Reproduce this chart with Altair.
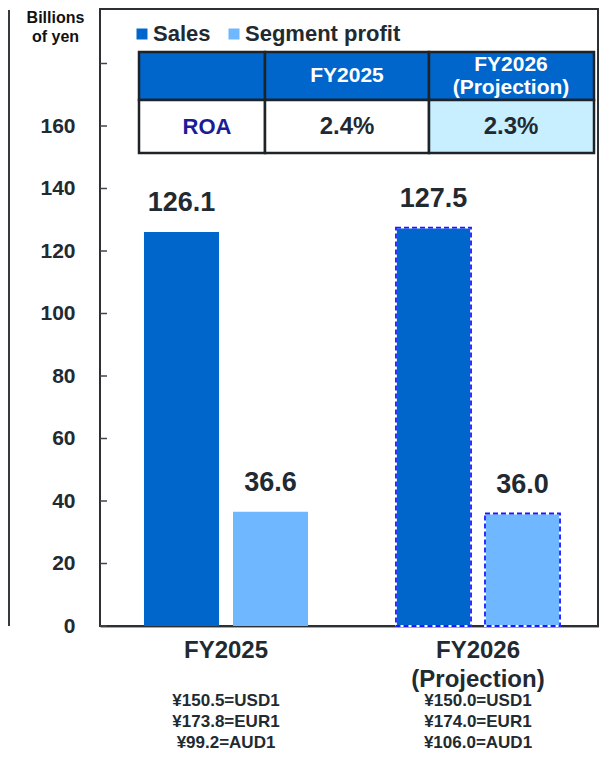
import altair as alt
import pandas as pd

# ---------------- data ----------------
years = ["FY2025", "FY2026 (Projection)"]
series = ["Sales", "Segment profit"]
sales = [126.1, 127.5]
segment_profit = [36.6, 36.0]
projected = [False, True]
fx_rates = [
    "¥150.5=USD1\n¥173.8=EUR1\n¥99.2=AUD1",
    "¥150.0=USD1\n¥174.0=EUR1\n¥106.0=AUD1",
]
y_tick_values = [0, 20, 40, 60, 80, 100, 120, 140, 160, 180]
y_label_values = [0, 20, 40, 60, 80, 100, 120, 140, 160]
table_header = ["", "FY2025", "FY2026\n(Projection)"]
table_row_label = "ROA"
roa_values = ["2.4%", "2.3%"]

# ---------------- style / layout ----------------
FONT = "Liberation Sans"
DARK = "#222a31"
SALES_C = "#0066cc"
PROFIT_C = "#6fb7ff"
HEAD_C = "#0066cc"
PROJ_CELL_C = "#c8efff"
ROA_C = "#1c1c98"
W, H = 498, 618
YMAX = H / 3.125

rows = []
for i, y in enumerate(years):
    rows.append({"year": y, "series": series[0], "value": sales[i], "proj": projected[i]})
    rows.append({"year": y, "series": series[1], "value": segment_profit[i], "proj": projected[i]})
bars_df = pd.DataFrame(rows)

x_enc = alt.X("year:N", scale=alt.Scale(domain=years, paddingInner=0, paddingOuter=0, range=[0, 504]),
              sort=years,
              axis=alt.Axis(title=None, labelExpr="split(datum.label, ' ')", labelFont=FONT,
                            labelFontSize=24, labelFontWeight="bold", labelColor=DARK,
                            labelLineHeight=29, labelPadding=12, labelBaseline="top",
                            ticks=False, domainColor="#8a8a8a", domainWidth=2.5,
                            labelAngle=0))
xo_enc = alt.XOffset("series:N", scale=alt.Scale(domain=series, paddingInner=0.157, paddingOuter=0.494))
y_scale = alt.Scale(domain=[0, YMAX], nice=False, zero=True)

frame = alt.Chart(pd.DataFrame({"a": [0]})).mark_rect(
    fillOpacity=0, stroke="#2b3035", strokeWidth=2
).encode(x=alt.value(0), x2=alt.value(W), y=alt.value(1), y2=alt.value(H))

bars = alt.Chart(bars_df).mark_bar().encode(
    x=x_enc,
    xOffset=xo_enc,
    y=alt.Y("value:Q", scale=y_scale,
            axis=alt.Axis(values=y_label_values, title=["Billions", "of yen"], titleAngle=0,
                          titleAlign="center", titleX=-45, titleY=14, titleBaseline="alphabetic",
                          titleFont=FONT, titleFontSize=16, titleFontWeight="bold",
                          titleColor="#111111", titleLineHeight=19,
                          labelFont=FONT, labelFontSize=21, labelFontWeight="bold",
                          labelColor=DARK, labelPadding=25, ticks=False, tickSize=0,
                          domain=False, grid=False)),
    color=alt.Color("series:N", scale=alt.Scale(domain=series, range=[SALES_C, PROFIT_C]),
                    legend=alt.Legend(title=None, orient="none", legendX=31, legendY=15,
                                      direction="horizontal", symbolType="square",
                                      symbolSize=121, symbolStrokeWidth=0,
                                      labelFont=FONT, labelFontSize=22, labelFontWeight="bold",
                                      labelColor=DARK, labelOffset=0, columnPadding=12,
                                      padding=0)),
)

outline_white = alt.Chart(bars_df).transform_filter("datum.proj").mark_bar(
    fillOpacity=0, stroke="#ffffff", strokeWidth=1.8
).encode(x=alt.X("year:N", sort=years), xOffset="series:N", y="value:Q")

outlines = alt.Chart(bars_df).transform_filter("datum.proj").mark_bar(
    fillOpacity=0, stroke="#1a1aff", strokeWidth=1.8, strokeDash=[5, 3]
).encode(x=alt.X("year:N", sort=years), xOffset="series:N", y="value:Q")

labels = alt.Chart(bars_df).mark_text(
    font=FONT, fontSize=27, fontWeight="bold", color=DARK, baseline="alphabetic", dy=-21
).encode(x=alt.X("year:N", sort=years), xOffset="series:N", y="value:Q",
         text=alt.Text("value:Q", format=".1f"))

ticks = alt.Chart(pd.DataFrame({"t": y_tick_values})).mark_rule(
    color="#444444", strokeWidth=1.5
).encode(y="t:Q", x=alt.value(0), x2=alt.value(7))

fx = alt.Chart(pd.DataFrame({"year": years, "fx": fx_rates})).mark_text(
    font=FONT, fontSize=17, fontWeight="bold", color=DARK, baseline="alphabetic",
    lineBreak="\n", lineHeight=21
).encode(x=alt.X("year:N", sort=years), y=alt.value(698), text="fx:N")

side_line = alt.Chart(pd.DataFrame({"a": [0]})).mark_rule(color="#333a40", strokeWidth=2).encode(
    x=alt.value(-91), y=alt.value(2), y2=alt.value(618))

main = alt.layer(frame, bars, outline_white, outlines, labels, ticks, fx, side_line)

# ---------------- ROA table (layout in pixels) ----------------
col_edges = [39, 165, 329, 494]
row_edges = [44, 92, 145]
cell_fills = [[HEAD_C, HEAD_C, HEAD_C], ["#ffffff", "#ffffff", PROJ_CELL_C]]
cells = []
for r in range(2):
    for c in range(3):
        cells.append({"x0": col_edges[c], "x1": col_edges[c + 1],
                      "y0": row_edges[r], "y1": row_edges[r + 1], "fill": cell_fills[r][c]})
cells_df = pd.DataFrame(cells)

cell_rects = alt.Chart(cells_df).mark_rect(stroke="#1e2328", strokeWidth=2.5).encode(
    x=alt.X("x0:Q", scale=None, axis=None), x2="x1:Q",
    y=alt.Y("y0:Q", scale=None, axis=None), y2="y1:Q",
    fill=alt.Fill("fill:N", scale=None),
)

texts = [
    {"x": 247, "y": 68, "t": table_header[1], "c": "#ffffff", "s": 21},
    {"x": 411, "y": 57, "t": table_header[2], "c": "#ffffff", "s": 21},
    {"x": 107, "y": 119, "t": table_row_label, "c": ROA_C, "s": 22},
    {"x": 247, "y": 119, "t": roa_values[0], "c": DARK, "s": 24},
    {"x": 411, "y": 119, "t": roa_values[1], "c": DARK, "s": 24},
]
cell_text = alt.Chart(pd.DataFrame(texts)).mark_text(
    font=FONT, fontWeight="bold", baseline="middle", lineBreak="\n", lineHeight=23
).encode(
    x=alt.X("x:Q", scale=None, axis=None), y=alt.Y("y:Q", scale=None, axis=None),
    text="t:N", color=alt.Color("c:N", scale=None), size=alt.Size("s:Q", scale=None),
)

table = alt.layer(cell_rects, cell_text)

chart = alt.layer(main, table).resolve_scale(x="independent", y="independent").properties(
    width=W, height=H,
    autosize=alt.AutoSizeParams(type="none"),
    padding={"left": 92, "top": 0, "right": 1, "bottom": 127},
).configure_view(stroke=None).configure(background="#ffffff")

chart.save("out.html", embed_options={"renderer": "svg", "actions": False})
